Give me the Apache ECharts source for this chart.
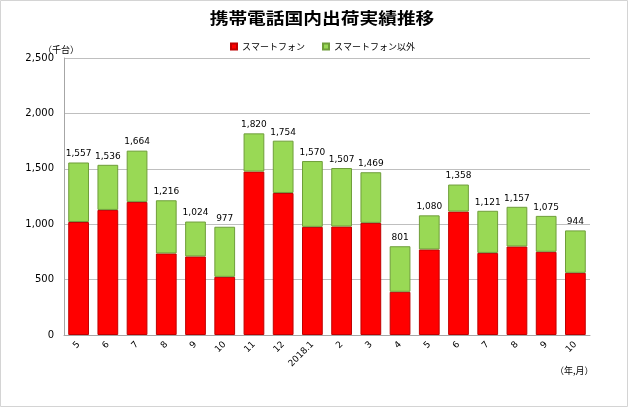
<!DOCTYPE html>
<html><head><meta charset="utf-8">
<script src="https://cdn.jsdelivr.net/npm/echarts@6/dist/echarts.min.js"></script>
<style>html,body{margin:0;padding:0;background:#fff}#c{width:628px;height:407px}</style>
</head><body><div id="c"></div>
<script>
const categories = ['5','6','7','8','9','10','11','12','2018.1','2','3','4','5','6','7','8','9','10'];
const totals = [1557,1536,1664,1216,1024,977,1820,1754,1570,1507,1469,801,1080,1358,1121,1157,1075,944];
const smartphone = [1020,1129,1201,736,709,525,1475,1282,976,979,1012,390,772,1114,741,799,751,561];
const others = totals.map((t,i)=>t-smartphone[i]);
const yTicks = [0,500,1000,1500,2000,2500];

const font = '"Noto Sans CJK JP", "DejaVu Sans", sans-serif';
const chart = echarts.init(document.getElementById('c'));
chart.setOption({
  backgroundColor:'#fff',
  animation:false,
  legend:{top:37, left:225, itemWidth:6, itemHeight:6, itemGap:17, icon:'rect',
    textStyle:{fontFamily:font, fontSize:9, color:'#000'},
    data:['スマートフォン','スマートフォン以外']},
  graphic:[
    {type:'rect', shape:{x:0.5,y:0.5,width:627,height:406}, style:{fill:'none', stroke:'#d4d4d4', lineWidth:1}},
    {type:'text', x:322, y:18, scaleX:1.17, style:{text:'携帯電話国内出荷実績推移', font:'bold 16px '+font, fill:'#000', align:'center', verticalAlign:'middle'}},
    {type:'text', x:43, y:50, style:{text:'（千台）', font:'9px '+font, fill:'#000', verticalAlign:'middle'}},
    {type:'text', x:555, y:371, style:{text:'（年,月）', font:'9px '+font, fill:'#000', verticalAlign:'middle'}}
  ],
  grid:{left:64, right:38, top:58, bottom:72},
  xAxis:{type:'category', data:categories,
    axisLine:{lineStyle:{color:'#a6a6a6'}}, axisTick:{show:false},
    axisLabel:{rotate:45, fontSize:9, fontFamily:'"DejaVu Sans", sans-serif', color:'#000', margin:8, interval:0}},
  yAxis:{type:'value', min:0, max:yTicks[yTicks.length-1], interval:500,
    axisLine:{show:true, lineStyle:{color:'#a6a6a6'}}, axisTick:{show:false},
    splitLine:{lineStyle:{color:'#bfbfbf'}},
    axisLabel:{fontSize:10, fontFamily:'"DejaVu Sans", sans-serif', color:'#000', margin:10,
      formatter:v=>v.toLocaleString('en-US')}},
  series:[
    {name:'スマートフォン', type:'bar', stack:'a', data:smartphone, barCategoryGap:'29%',
      itemStyle:{color:'#ff0000', borderColor:'#c00000', borderWidth:1}},
    {name:'スマートフォン以外', type:'bar', stack:'a', data:others,
      itemStyle:{color:'#99d955', borderColor:'#6f9e3a', borderWidth:1},
      label:{show:true, position:'top', distance:4, fontSize:9, fontFamily:'"DejaVu Sans", sans-serif', color:'#000',
        formatter:p=>totals[p.dataIndex].toLocaleString('en-US')}}
  ]
});
</script></body></html>
